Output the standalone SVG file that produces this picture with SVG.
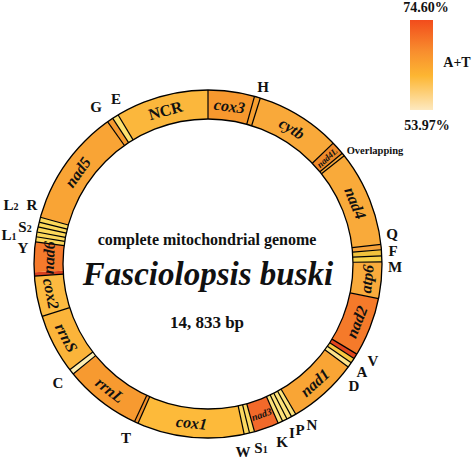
<svg xmlns="http://www.w3.org/2000/svg" width="472" height="460" viewBox="0 0 472 460">
<defs>
<linearGradient id="at" x1="0" y1="0" x2="0" y2="1">
<stop offset="0" stop-color="#f24c1c"/>
<stop offset="0.35" stop-color="#f88e2e"/>
<stop offset="0.62" stop-color="#fdb632"/>
<stop offset="1" stop-color="#fde9bf"/>
</linearGradient>
<style>
.seg{fill:none;stroke-width:29}
.sep{stroke:#000;stroke-width:1.2}
.rim{fill:none;stroke:#000;stroke-width:1.3}
.g{font-family:"Liberation Serif",serif;font-weight:bold;font-style:italic;font-size:16px;text-anchor:middle;fill:#111}
.n{font-family:"Liberation Serif",serif;font-weight:bold;font-size:16px;text-anchor:middle;fill:#111}
.t{font-family:"Liberation Serif",serif;font-weight:bold;font-size:16px;text-anchor:middle;fill:#111}
.l{font-family:"Liberation Serif",serif;font-weight:bold;font-size:15px;text-anchor:middle;fill:#111}
.sub{font-size:10px}
</style>
</defs>
<rect width="472" height="460" fill="#fff"/>
<g id="ring" transform="translate(208,264)">
<circle class="seg" r="159.5" pathLength="360" stroke-dasharray="31.1 400" transform="rotate(238.9)" stroke="#fbb73c"/>
<circle class="seg" r="159.5" pathLength="360" stroke-dasharray="15.5 400" transform="rotate(-90)" stroke="#f7982e"/>
<circle class="seg" r="159.5" pathLength="360" stroke-dasharray="2 400" transform="rotate(-74.5)" stroke="#f7a030"/>
<circle class="seg" r="159.5" pathLength="360" stroke-dasharray="28.5 400" transform="rotate(-72.5)" stroke="#f9a93a"/>
<circle class="seg" r="159.5" pathLength="360" stroke-dasharray="4.5 400" transform="rotate(-44)" stroke="#f08a2a"/>
<circle class="seg" r="159.5" pathLength="360" stroke-dasharray="1 400" transform="rotate(-39.5)" stroke="#f9a93a"/>
<circle class="seg" r="159.5" pathLength="360" stroke-dasharray="32 400" transform="rotate(-38.5)" stroke="#f9aa3a"/>
<circle class="seg" r="159.5" pathLength="360" stroke-dasharray="1.8 400" transform="rotate(-6.5)" stroke="#f7a33a"/>
<circle class="seg" r="159.5" pathLength="360" stroke-dasharray="2 400" transform="rotate(-4.7)" stroke="#f0c23c"/>
<circle class="seg" r="159.5" pathLength="360" stroke-dasharray="2 400" transform="rotate(-2.7)" stroke="#f8d24a"/>
<circle class="seg" r="159.5" pathLength="360" stroke-dasharray="12.2 400" transform="rotate(-0.7)" stroke="#f9ab3c"/>
<circle class="seg" r="159.5" pathLength="360" stroke-dasharray="19.7 400" transform="rotate(11.5)" stroke="#f57a2a"/>
<circle class="seg" r="159.5" pathLength="360" stroke-dasharray="1.7 400" transform="rotate(31.2)" stroke="#e2461e"/>
<circle class="seg" r="159.5" pathLength="360" stroke-dasharray="1.7 400" transform="rotate(32.9)" stroke="#f9c840"/>
<circle class="seg" r="159.5" pathLength="360" stroke-dasharray="1.7 400" transform="rotate(34.6)" stroke="#fde48a"/>
<circle class="seg" r="159.5" pathLength="360" stroke-dasharray="23.4 400" transform="rotate(36.3)" stroke="#f9a535"/>
<circle class="seg" r="159.5" pathLength="360" stroke-dasharray="6.5 400" transform="rotate(59.7)" stroke="#fde27a"/>
<circle class="seg" r="159.5" pathLength="360" stroke-dasharray="8.3 400" transform="rotate(66.2)" stroke="#f2692a"/>
<circle class="seg" r="159.5" pathLength="360" stroke-dasharray="3.5 400" transform="rotate(74.5)" stroke="#fcd860"/>
<circle class="seg" r="159.5" pathLength="360" stroke-dasharray="35.7 400" transform="rotate(78)" stroke="#fdba3a"/>
<circle class="seg" r="159.5" pathLength="360" stroke-dasharray="1.3 400" transform="rotate(113.7)" stroke="#f0902a"/>
<circle class="seg" r="159.5" pathLength="360" stroke-dasharray="25.8 400" transform="rotate(115)" stroke="#f79a30"/>
<circle class="seg" r="159.5" pathLength="360" stroke-dasharray="1.8 400" transform="rotate(140.8)" stroke="#fdeeb2"/>
<circle class="seg" r="159.5" pathLength="360" stroke-dasharray="19.9 400" transform="rotate(142.6)" stroke="#fbb43a"/>
<circle class="seg" r="159.5" pathLength="360" stroke-dasharray="13.5 400" transform="rotate(162.5)" stroke="#fcba40"/>
<circle class="seg" r="159.5" pathLength="360" stroke-dasharray="1.3 400" transform="rotate(176)" stroke="#d8401e"/>
<circle class="seg" r="159.5" pathLength="360" stroke-dasharray="10 400" transform="rotate(177.3)" stroke="#f57a2c"/>
<circle class="seg" r="159.5" pathLength="360" stroke-dasharray="8.3 400" transform="rotate(187.3)" stroke="#fcd85a"/>
<circle class="seg" r="159.5" pathLength="360" stroke-dasharray="39.2 400" transform="rotate(195.6)" stroke="#f9a435"/>
<circle class="seg" r="159.5" pathLength="360" stroke-dasharray="2 400" transform="rotate(234.8)" stroke="#f59a30"/>
<circle class="seg" r="159.5" pathLength="360" stroke-dasharray="2.1 400" transform="rotate(236.8)" stroke="#fde070"/>
<circle class="rim" r="145"/>
<circle class="rim" r="174"/>
</g>
<g id="connectors" transform="translate(208,264)">
<line class="sep" y1="-145" y2="-174" transform="rotate(328.9)"/>
<line class="sep" y1="-145" y2="-174" transform="rotate(0)"/>
<line class="sep" y1="-145" y2="-174" transform="rotate(15.5)"/>
<line class="sep" y1="-145" y2="-174" transform="rotate(17.5)"/>
<line class="sep" y1="-145" y2="-174" transform="rotate(46)"/>
<line class="sep" y1="-145" y2="-174" transform="rotate(50.5)"/>
<line class="sep" y1="-145" y2="-174" transform="rotate(51.5)"/>
<line class="sep" y1="-145" y2="-174" transform="rotate(83.5)"/>
<line class="sep" y1="-145" y2="-174" transform="rotate(85.3)"/>
<line class="sep" y1="-145" y2="-174" transform="rotate(87.3)"/>
<line class="sep" y1="-145" y2="-174" transform="rotate(89.3)"/>
<line class="sep" y1="-145" y2="-174" transform="rotate(101.5)"/>
<line class="sep" y1="-145" y2="-174" transform="rotate(121.2)"/>
<line class="sep" y1="-145" y2="-174" transform="rotate(122.9)"/>
<line class="sep" y1="-145" y2="-174" transform="rotate(124.6)"/>
<line class="sep" y1="-145" y2="-174" transform="rotate(126.3)"/>
<line class="sep" y1="-145" y2="-174" transform="rotate(149.7)"/>
<line class="sep" y1="-145" y2="-174" transform="rotate(151.3)"/>
<line class="sep" y1="-145" y2="-174" transform="rotate(153)"/>
<line class="sep" y1="-145" y2="-174" transform="rotate(154.6)"/>
<line class="sep" y1="-145" y2="-174" transform="rotate(156.2)"/>
<line class="sep" y1="-145" y2="-174" transform="rotate(164.5)"/>
<line class="sep" y1="-145" y2="-174" transform="rotate(166.2)"/>
<line class="sep" y1="-145" y2="-174" transform="rotate(168)"/>
<line class="sep" y1="-145" y2="-174" transform="rotate(203.7)"/>
<line class="sep" y1="-145" y2="-174" transform="rotate(205)"/>
<line class="sep" y1="-145" y2="-174" transform="rotate(230.8)"/>
<line class="sep" y1="-145" y2="-174" transform="rotate(232.6)"/>
<line class="sep" y1="-145" y2="-174" transform="rotate(252.5)"/>
<line class="sep" y1="-145" y2="-174" transform="rotate(266)"/>
<line class="sep" y1="-145" y2="-174" transform="rotate(277.3)"/>
<line class="sep" y1="-145" y2="-174" transform="rotate(279)"/>
<line class="sep" y1="-145" y2="-174" transform="rotate(280.6)"/>
<line class="sep" y1="-145" y2="-174" transform="rotate(282.3)"/>
<line class="sep" y1="-145" y2="-174" transform="rotate(283.9)"/>
<line class="sep" y1="-145" y2="-174" transform="rotate(285.6)"/>
<line class="sep" y1="-145" y2="-174" transform="rotate(324.8)"/>
<line class="sep" y1="-145" y2="-174" transform="rotate(326.8)"/>
</g>
<g id="genes" transform="translate(208,264)">
<text id="NCR" class="n" dy="0.35em" transform="rotate(344.5) translate(0,-159.5)">NCR</text>
<text id="cox3" class="g" dy="0.35em" transform="rotate(7.75) translate(0,-159.5)">cox3</text>
<text id="cytb" class="g" dy="0.35em" transform="rotate(31.75) translate(0,-159.5)">cytb</text>
<text id="nad4L" class="g" style="font-size:9px" dy="0.35em" transform="rotate(48.25) translate(0,-159.5) rotate(-90)">nad4L</text>
<text id="nad4" class="g" dy="0.35em" transform="rotate(67.5) translate(0,-159.5)">nad4</text>
<text id="atp6" class="g" dy="0.35em" transform="rotate(95.4) translate(0,-159.5) rotate(180)">atp6</text>
<text id="nad2" class="g" dy="0.35em" transform="rotate(111.3) translate(0,-159.5) rotate(180)">nad2</text>
<text id="nad1" class="g" dy="0.35em" transform="rotate(138) translate(0,-159.5) rotate(180)">nad1</text>
<text id="nad3" class="g" style="font-size:10px" dy="0.35em" transform="rotate(160.4) translate(0,-159.5) rotate(180)">nad3</text>
<text id="cox1" class="g" dy="0.35em" transform="rotate(185.9) translate(0,-159.5) rotate(180)">cox1</text>
<text id="rrnL" class="g" dy="0.35em" transform="rotate(217.9) translate(0,-159.5) rotate(180)">rrnL</text>
<text id="rrnS" class="g" dy="0.35em" transform="rotate(242.5) translate(0,-159.5) rotate(180)">rrnS</text>
<text id="cox2" class="g" dy="0.35em" transform="rotate(259.3) translate(0,-159.5) rotate(180)">cox2</text>
<text id="nad6" class="g" dy="0.35em" transform="rotate(272.3) translate(0,-159.5)">nad6</text>
<text id="nad5" class="g" dy="0.35em" transform="rotate(305.2) translate(0,-159.5)">nad5</text>
</g>
<g id="trna-labels">
<text class="l" x="263" y="92">H</text>
<text class="l" x="96" y="112">G</text>
<text class="l" x="116" y="104">E</text>
<text class="l" x="11" y="210">L<tspan class="sub">2</tspan></text>
<text class="l" x="32" y="210">R</text>
<text class="l" x="25" y="232">S<tspan class="sub">2</tspan></text>
<text class="l" x="9" y="240">L<tspan class="sub">1</tspan></text>
<text class="l" x="23" y="253">Y</text>
<text class="l" x="392" y="239">Q</text>
<text class="l" x="393" y="256">F</text>
<text class="l" x="395" y="272">M</text>
<text class="l" x="373" y="366">V</text>
<text class="l" x="362" y="377">A</text>
<text class="l" x="354" y="391">D</text>
<text class="l" x="312" y="430">N</text>
<text class="l" x="300" y="435">P</text>
<text class="l" x="292" y="438">I</text>
<text class="l" x="282" y="447">K</text>
<text class="l" x="261" y="453">S<tspan class="sub">1</tspan></text>
<text class="l" x="243" y="457">W</text>
<text class="l" x="126" y="443">T</text>
<text class="l" x="58" y="388">C</text>
<text class="t" x="375" y="154" style="font-size:10.5px">Overlapping</text>
</g>
<g id="title">
<text class="t" x="207" y="245">complete mitochondrial genome</text>
<text class="g" x="208" y="285" style="font-size:33px">Fasciolopsis buski</text>
<text class="t" x="207" y="328" style="font-size:17px">14, 833 bp</text>
</g>
<g id="legend">
<rect x="410" y="20" width="23" height="90" fill="url(#at)"/>
<text class="t" x="426" y="12" style="font-size:14px">74.60%</text>
<text class="t" x="427" y="130" style="font-size:14px">53.97%</text>
<text class="t" x="457" y="67" style="font-size:14px">A+T</text>
</g>
</svg>
